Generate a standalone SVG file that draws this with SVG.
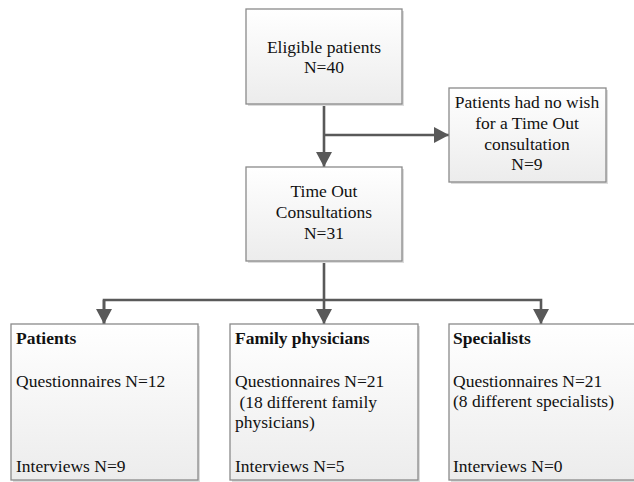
<svg xmlns="http://www.w3.org/2000/svg" width="634" height="482" viewBox="0 0 634 482">
<defs>
<linearGradient id="g" x1="0" y1="0" x2="0" y2="1">
<stop offset="0" stop-color="#ffffff"/>
<stop offset="1" stop-color="#ececec"/>
</linearGradient>
<marker id="ah" viewBox="0 0 15 16" refX="15" refY="8" markerWidth="15" markerHeight="16" markerUnits="userSpaceOnUse" orient="auto">
<path d="M0,0 L15,8 L0,16 Z" fill="#595959"/>
</marker>
</defs>
<style>
.box{fill:url(#g);stroke:#8a8a8a;stroke-width:1.3}
.sh{fill:#dcdcdc}
text{font-size:17.5px;fill:#111}
.c{text-anchor:middle}
.b{font-weight:bold}
.ln{fill:none;stroke:#595959;stroke-width:2.6}
</style>
<g id="connectors">
<path class="ln" d="M324,104 V167" marker-end="url(#ah)"/>
<path class="ln" d="M324,135 H449" marker-end="url(#ah)"/>
<path class="ln" d="M324,262 V324" marker-end="url(#ah)"/>
<path class="ln" d="M104,324 V300 H541 V324" marker-end="url(#ah)"/>
<path class="ln" d="M104,300 V324" marker-end="url(#ah)"/>
</g>
<g font-family="'Liberation Serif', 'DejaVu Serif', serif">
<g id="eligible">
<rect class="sh" x="248" y="11" width="156" height="95"/>
<rect class="box" x="246" y="9" width="156" height="95"/>
<text class="c" x="324" y="53">Eligible patients</text>
<text class="c" x="324" y="73">N=40</text>
</g>
<g id="nowish">
<rect class="sh" x="451" y="90" width="157" height="94"/>
<rect class="box" x="449" y="88" width="157" height="94"/>
<text class="c" x="527" y="108">Patients had no wish</text>
<text class="c" x="527" y="129">for a Time Out</text>
<text class="c" x="527" y="150">consultation</text>
<text class="c" x="527" y="170">N=9</text>
</g>
<g id="timeout">
<rect class="sh" x="248" y="169" width="156" height="94"/>
<rect class="box" x="246" y="167" width="156" height="94"/>
<text class="c" x="324" y="197">Time Out</text>
<text class="c" x="324" y="218">Consultations</text>
<text class="c" x="324" y="239">N=31</text>
</g>
<g id="patients">
<rect class="sh" x="13" y="326" width="187" height="156"/>
<rect class="box" x="11" y="324" width="187" height="156"/>
<text class="b" x="16" y="344">Patients</text>
<text x="16" y="387">Questionnaires N=12</text>
<text x="16" y="472">Interviews N=9</text>
</g>
<g id="family">
<rect class="sh" x="232" y="326" width="188" height="156"/>
<rect class="box" x="230" y="324" width="188" height="156"/>
<text class="b" x="235" y="344">Family physicians</text>
<text x="235" y="387">Questionnaires N=21</text>
<text x="235" y="408" xml:space="preserve"> (18 different family</text>
<text x="235" y="428">physicians)</text>
<text x="235" y="472">Interviews N=5</text>
</g>
<g id="specialists">
<rect class="sh" x="451" y="326" width="188" height="156"/>
<rect class="box" x="449" y="324" width="188" height="156"/>
<text class="b" x="453" y="344">Specialists</text>
<text x="453" y="387">Questionnaires N=21</text>
<text x="453" y="407">(8 different specialists)</text>
<text x="453" y="472">Interviews N=0</text>
</g>
</g>
</svg>
